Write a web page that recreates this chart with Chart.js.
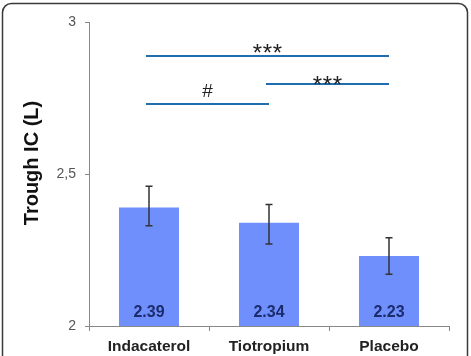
<!DOCTYPE html>
<html>
<head>
<meta charset="utf-8">
<script src="https://cdn.jsdelivr.net/npm/chart.js@4"></script>
<style>
  html, body { margin: 0; padding: 0; background: #ffffff; }
  #wrap { width: 471px; height: 356px; position: relative; }
</style>
</head>
<body>
<div id="wrap"><canvas id="c" width="471" height="356"></canvas></div>
<script>
// ---- data ----
const categories = ['Indacaterol', 'Tiotropium', 'Placebo'];
const means = [2.39, 2.34, 2.23];
const errLow = [2.33, 2.27, 2.17];
const errHigh = [2.46, 2.40, 2.29];
const valueLabels = ['2.39', '2.34', '2.23'];
const yMin = 2, yMax = 3, yStep = 0.5;
const yTitle = 'Trough IC (L)';
// significance brackets
const sigFrom = [0, 0, 1];
const sigTo = [2, 1, 2];
const sigLevel = [2.888, 2.730, 2.796];
const sigTextLevel = [2.918, 2.776, 2.8125];
const sigLabel = ['***', '#', '***'];

const FONT = '"Liberation Sans", Arial, sans-serif';

const extras = {
  id: 'extras',
  beforeDraw(chart) {
    const ctx = chart.ctx;
    ctx.save();
    ctx.strokeStyle = '#3a3a3a';
    ctx.lineWidth = 1.5;
    const x0 = 2.5, y0 = 3.5, x1 = 467.5, y1 = 420, r = 9;
    ctx.beginPath();
    ctx.moveTo(x0 + r, y0);
    ctx.lineTo(x1 - r, y0);
    ctx.arcTo(x1, y0, x1, y0 + r, r);
    ctx.lineTo(x1, y1);
    ctx.lineTo(x0, y1);
    ctx.lineTo(x0, y0 + r);
    ctx.arcTo(x0, y0, x0 + r, y0, r);
    ctx.stroke();
    ctx.restore();
  },
  afterDatasetsDraw(chart) {
    const ctx = chart.ctx;
    const xs = chart.scales.x, ys = chart.scales.y;
    ctx.save();
    // error bars
    ctx.strokeStyle = '#333333';
    ctx.lineWidth = 1.5;
    for (let i = 0; i < categories.length; i++) {
      const x = xs.getPixelForValue(i);
      const yl = ys.getPixelForValue(errLow[i]);
      const yh = ys.getPixelForValue(errHigh[i]);
      ctx.beginPath();
      ctx.moveTo(x, yl); ctx.lineTo(x, yh);
      ctx.moveTo(x - 3.5, yl); ctx.lineTo(x + 3.5, yl);
      ctx.moveTo(x - 3.5, yh); ctx.lineTo(x + 3.5, yh);
      ctx.stroke();
    }
    // value labels inside bars
    ctx.fillStyle = '#1b2b6c';
    ctx.font = 'bold 16px ' + FONT;
    ctx.textAlign = 'center';
    ctx.textBaseline = 'alphabetic';
    for (let i = 0; i < categories.length; i++) {
      const x = xs.getPixelForValue(i);
      const yb = ys.getPixelForValue(yMin);
      ctx.fillText(valueLabels[i], x, yb - 9);
    }
    // significance brackets
    ctx.strokeStyle = '#1f6fb0';
    ctx.lineWidth = 2;
    for (let k = 0; k < sigLabel.length; k++) {
      const xa = xs.getPixelForValue(sigFrom[k]);
      const xb = xs.getPixelForValue(sigTo[k]);
      const y = ys.getPixelForValue(sigLevel[k]);
      ctx.beginPath();
      ctx.moveTo(xa - 3, y); ctx.lineTo(xb, y);
      ctx.stroke();
      const ty = ys.getPixelForValue(sigTextLevel[k]);
      const xm = (xa - 3 + xb) / 2;
      ctx.fillStyle = '#222222';
      if (sigLabel[k] === '#') {
        ctx.font = '19px ' + FONT;
        ctx.fillText(sigLabel[k], xm, ty + 7);
      } else {
        ctx.font = '24px ' + FONT;
        const chars = sigLabel[k].split('');
        const pitch = 10;
        chars.forEach((ch, j) => {
          const cx = xm + (j - (chars.length - 1) / 2) * pitch;
          ctx.fillText(ch, cx, ty + 14);
        });
      }
    }
    // y axis title
    ctx.fillStyle = '#111111';
    ctx.font = 'bold 20px ' + FONT;
    ctx.translate(38, 163);
    ctx.rotate(-Math.PI / 2);
    ctx.textAlign = 'center';
    ctx.fillText(yTitle, 0, 0);
    ctx.restore();
  }
};

new Chart(document.getElementById('c'), {
  type: 'bar',
  data: {
    labels: categories,
    datasets: [{
      data: means,
      backgroundColor: '#6f8ffd',
      borderWidth: 0,
      barPercentage: 0.5,
      categoryPercentage: 1.0
    }]
  },
  options: {
    responsive: false,
    animation: false,
    devicePixelRatio: 1,
    layout: { padding: { left: 0, right: 22, top: 22, bottom: 0 } },
    plugins: { legend: { display: false }, tooltip: { enabled: false } },
    scales: {
      x: {
        grid: { display: true, drawOnChartArea: false, offset: true, tickLength: 5, color: '#888888' },
        border: { display: true, color: '#888888', width: 1 },
        ticks: { color: '#222222', padding: 6, font: { family: FONT, size: 15.5, weight: 'bold' } },
        afterFit(scale) { scale.height = 30; }
      },
      y: {
        min: yMin, max: yMax,
        grid: { display: true, drawOnChartArea: false, tickLength: 4, color: '#888888' },
        border: { display: true, color: '#888888', width: 1 },
        ticks: {
          stepSize: yStep, padding: 9, color: '#555555',
          font: { family: FONT, size: 14 },
          callback: v => String(v).replace('.', ',')
        },
        afterFit(scale) { scale.width = 89; }
      }
    }
  },
  plugins: [extras]
});
</script>
</body>
</html>
